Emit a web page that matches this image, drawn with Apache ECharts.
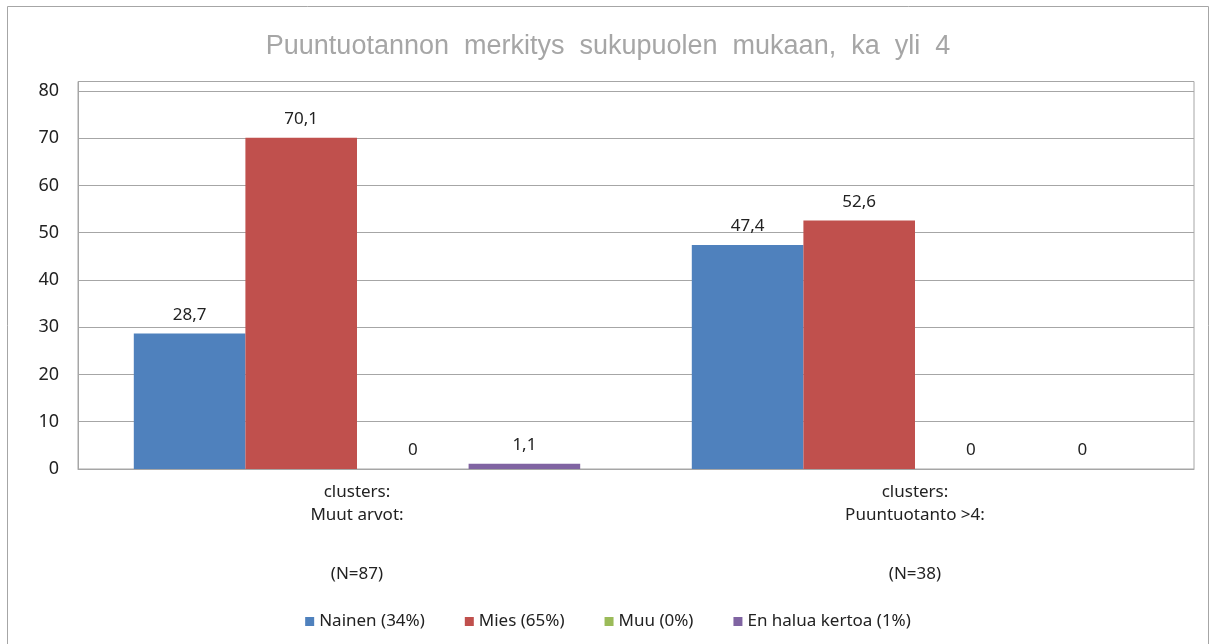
<!DOCTYPE html>
<html>
<head>
<meta charset="utf-8">
<title>Puuntuotannon merkitys</title>
<script src="https://cdn.jsdelivr.net/npm/echarts@6/dist/echarts.min.js"></script>
<style>
  html, body { margin: 0; padding: 0; background: #fff; }
  #chart { width: 1216px; height: 644px; }
</style>
</head>
<body>
<div id="chart"></div>
<script>
// data
var categories = [
  'clusters:\nMuut arvot:\n\n(N=87)',
  'clusters:\nPuuntuotanto >4:\n\n(N=38)'
];
var seriesNames = ['Nainen (34%)', 'Mies (65%)', 'Muu (0%)', 'En halua kertoa (1%)'];
var nainen = [28.7, 47.4];
var mies = [70.1, 52.6];
var muu = [0, 0];
var enHalua = [1.1, 0];
var colors = ['#4f81bd', '#c0504d', '#9bbb59', '#8064a2'];

var font = '"Noto Sans", "Open Sans", sans-serif';

var myChart = echarts.init(document.getElementById('chart'));

function barSeries(name, data) {
  return {
    name: name,
    type: 'bar',
    data: data,
    barGap: '0%',
    barCategoryGap: '20%',
    label: {
      show: true,
      position: 'top',
      distance: 10,
      color: '#222',
      fontFamily: font,
      fontSize: 17,
      formatter: function (p) { return String(p.value).replace('.', ','); }
    }
  };
}

var option = {
  color: colors,
  animation: false,
  title: {
    text: 'Puuntuotannon  merkitys  sukupuolen  mukaan,  ka  yli  4',
    left: 'center',
    top: 28,
    textStyle: { color: '#a6a6a6', fontFamily: '"Liberation Sans", Arial, sans-serif', fontSize: 27, fontWeight: 'normal' }
  },
  graphic: [{
    type: 'rect',
    shape: { x: 7.5, y: 6.5, width: 1201, height: 660 },
    style: { fill: 'none', stroke: '#a6a6a6', lineWidth: 1 },
    silent: true
  }],
  legend: {
    data: seriesNames,
    left: 'center',
    top: 608,
    icon: 'rect',
    itemWidth: 9,
    itemHeight: 9,
    itemGap: 40,
    textStyle: { color: '#222', fontFamily: font, fontSize: 17 }
  },
  grid: {
    left: 78,
    right: 22,
    top: 81.5,
    bottom: 175,
    show: true,
    borderColor: '#a6a6a6',
    borderWidth: 1
  },
  xAxis: {
    type: 'category',
    data: categories,
    axisLine: { lineStyle: { color: '#a6a6a6' } },
    axisTick: { show: false },
    axisLabel: {
      margin: 12,
      interval: 0,
      formatter: function (v) {
        var parts = v.split('\n');
        return '{a|' + parts[0] + '}\n{a|' + parts[1] + '}\n{b| }\n{a|' + parts[3] + '}';
      },
      rich: {
        a: { color: '#222', fontFamily: font, fontSize: 17, lineHeight: 23 },
        b: { fontSize: 17, lineHeight: 36 }
      }
    }
  },
  yAxis: {
    type: 'value',
    min: 0,
    max: 82,
    interval: 10,
    axisLine: { show: true, lineStyle: { color: '#a6a6a6' } },
    axisTick: { show: false },
    splitLine: { lineStyle: { color: '#a6a6a6' } },
    axisLabel: {
      margin: 19,
      color: '#222',
      fontFamily: font,
      fontSize: 18,
      formatter: function (v) { return v % 10 === 0 ? String(v) : ''; }
    }
  },
  series: [
    barSeries(seriesNames[0], nainen),
    barSeries(seriesNames[1], mies),
    barSeries(seriesNames[2], muu),
    barSeries(seriesNames[3], enHalua)
  ]
};

myChart.setOption(option);
</script>
</body>
</html>
